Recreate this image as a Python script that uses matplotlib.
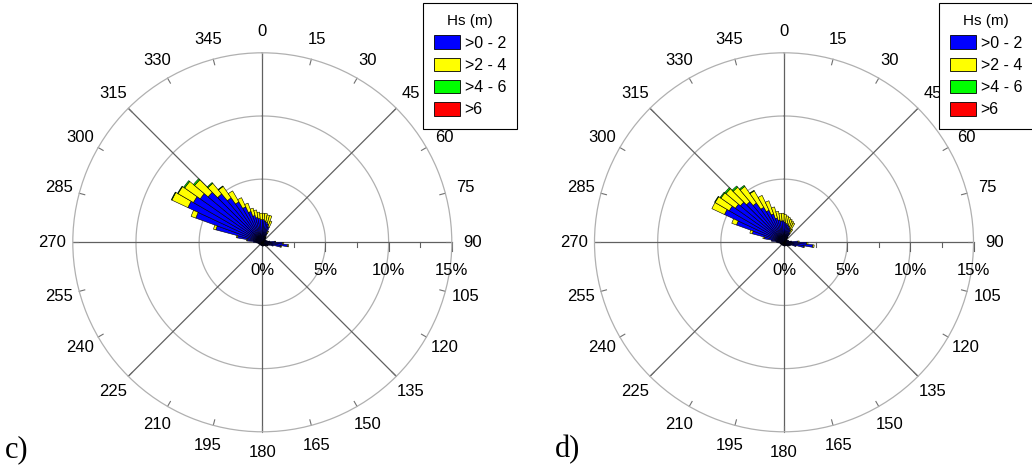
import numpy as np
import matplotlib.pyplot as plt
from matplotlib.patches import Patch

plt.rcParams['font.family'] = ['Liberation Sans', 'DejaVu Sans']

# direction bins (compass, deg) - centres of 5 deg sectors
dirs = np.arange(2.5, 360, 5)
classes = ['>0 - 2', '>2 - 4', '>4 - 6', '>6']
colors = ['#0000ff', '#ffff00', '#00ff00', '#ff0000']

# panel c) frequency (%) per Hs class, 72 bins starting at 2.5 deg
c_blue = [1.8, 1.7, 1.6, 1.5, 1.3, 0.8, 0.5, 0.4, 0.3, 0.3, 0.3, 0.3,
          0.3, 0.3, 0.4, 0.4, 0.6, 1.0, 1.6, 2.0, 1.5, 0.9, 0.6, 0.5,
          0.5, 0.4, 0.4, 0.4, 0.3, 0.3, 0.3, 0.3, 0.3, 0.3, 0.3, 0.3,
          0.25, 0.25, 0.25, 0.25, 0.25, 0.25, 0.25, 0.25, 0.25, 0.25, 0.25, 0.25,
          0.3, 0.3, 0.3, 0.3, 0.4, 0.5, 0.7, 1.2, 2.0, 3.8, 5.6, 6.5,
          6.3, 6.0, 5.6, 5.0, 4.3, 3.7, 3.1, 2.6, 2.2, 2.0, 1.9, 1.8]
c_yellow = [0.5, 0.6, 0.6, 0.7, 0.5, 0.2, 0.05, 0, 0, 0, 0, 0,
            0, 0, 0, 0, 0, 0.05, 0.1, 0.1, 0.05, 0, 0, 0,
            0, 0, 0, 0, 0, 0, 0, 0, 0, 0, 0, 0,
            0, 0, 0, 0, 0, 0, 0, 0, 0, 0, 0, 0,
            0, 0, 0, 0, 0, 0, 0, 0.05, 0.1, 0.2, 0.4, 1.4,
            1.4, 1.5, 1.4, 1.1, 1.1, 1.0, 0.8, 0.7, 0.6, 0.6, 0.5, 0.5]
c_green = [0, 0, 0, 0, 0, 0, 0, 0, 0, 0, 0, 0,
           0, 0, 0, 0, 0, 0, 0, 0, 0, 0, 0, 0,
           0, 0, 0, 0, 0, 0, 0, 0, 0, 0, 0, 0,
           0, 0, 0, 0, 0, 0, 0, 0, 0, 0, 0, 0,
           0, 0, 0, 0, 0, 0, 0, 0, 0, 0, 0, 0.05,
           0.05, 0.1, 0.12, 0.08, 0.05, 0, 0, 0, 0, 0, 0, 0]
c_red = [0, 0, 0, 0, 0, 0, 0, 0, 0, 0, 0, 0,
         0, 0, 0, 0, 0, 0, 0, 0, 0, 0, 0, 0,
         0, 0, 0, 0, 0, 0, 0, 0, 0, 0, 0, 0,
         0, 0, 0, 0, 0, 0, 0, 0, 0, 0, 0, 0,
         0, 0, 0, 0, 0, 0, 0, 0, 0, 0, 0, 0,
         0, 0, 0, 0, 0, 0, 0, 0, 0, 0, 0, 0]

# panel d)
d_blue = [1.6, 1.5, 1.4, 1.3, 1.2, 1.1, 0.8, 0.4, 0.3, 0.3, 0.3, 0.3,
          0.3, 0.3, 0.4, 0.4, 0.6, 1.1, 1.8, 2.3, 1.6, 1.0, 0.6, 0.5,
          0.5, 0.4, 0.4, 0.4, 0.3, 0.3, 0.3, 0.3, 0.3, 0.3, 0.3, 0.3,
          0.25, 0.25, 0.25, 0.25, 0.25, 0.25, 0.25, 0.25, 0.25, 0.25, 0.25, 0.25,
          0.3, 0.3, 0.3, 0.3, 0.4, 0.5, 0.6, 1.0, 1.6, 2.6, 4.0, 5.2,
          5.0, 4.7, 4.5, 4.2, 3.8, 3.2, 2.8, 2.4, 2.0, 1.8, 1.7, 1.7]
d_yellow = [0.6, 0.6, 0.6, 0.6, 0.6, 0.6, 0.4, 0.1, 0, 0, 0, 0,
            0, 0, 0, 0, 0, 0.1, 0.1, 0.1, 0.05, 0, 0, 0,
            0, 0, 0, 0, 0, 0, 0, 0, 0, 0, 0, 0,
            0, 0, 0, 0, 0, 0, 0, 0, 0, 0, 0, 0,
            0, 0, 0, 0, 0, 0, 0, 0, 0.1, 0.2, 0.4, 1.1,
            1.3, 1.4, 1.5, 1.5, 1.6, 1.5, 1.3, 1.1, 0.9, 0.7, 0.6, 0.6]
d_green = [0, 0, 0, 0, 0, 0, 0, 0, 0, 0, 0, 0,
           0, 0, 0, 0, 0, 0, 0, 0, 0, 0, 0, 0,
           0, 0, 0, 0, 0, 0, 0, 0, 0, 0, 0, 0,
           0, 0, 0, 0, 0, 0, 0, 0, 0, 0, 0, 0,
           0, 0, 0, 0, 0, 0, 0, 0, 0, 0, 0, 0,
           0.05, 0.08, 0.12, 0.12, 0.1, 0.05, 0, 0, 0, 0, 0, 0]
d_red = [0, 0, 0, 0, 0, 0, 0, 0, 0, 0, 0, 0,
         0, 0, 0, 0, 0, 0, 0, 0, 0, 0, 0, 0,
         0, 0, 0, 0, 0, 0, 0, 0, 0, 0, 0, 0,
         0, 0, 0, 0, 0, 0, 0, 0, 0, 0, 0, 0,
         0, 0, 0, 0, 0, 0, 0, 0, 0, 0, 0, 0,
         0, 0, 0, 0, 0, 0, 0, 0, 0, 0, 0, 0]

angle_labels = list(range(0, 360, 15))
rings = [5, 10, 15]
ring_labels = ['0%', '5%', '10%', '15%']
RMAX = 15


def to_polar(x, y):
    # cartesian (east, north) -> compass polar coords
    return np.arctan2(x, y), np.hypot(x, y)


def draw_rose(ax, series):
    ax.set_theta_zero_location('N')
    ax.set_theta_direction(-1)
    bottom = np.zeros(len(dirs))
    for vals, col in zip(series, colors):
        vals = np.asarray(vals, float)
        m = vals > 0
        ax.bar(np.deg2rad(dirs[m]), vals[m], width=np.deg2rad(5), bottom=bottom[m],
               color=col, edgecolor='black', linewidth=0.4, zorder=3)
        bottom += vals
    ax.set_ylim(0, RMAX)
    ax.set_xticks([])
    ax.set_yticks([])
    ax.grid(False)
    ax.spines['polar'].set_color('#b0b0b0')
    ax.spines['polar'].set_linewidth(0.9)

    th = np.linspace(0, 2 * np.pi, 400)
    for r in rings[:-1]:
        ax.plot(th, np.full_like(th, r), color='#b0b0b0', lw=0.9, zorder=1)
    for a in range(0, 360, 45):
        ax.plot([np.deg2rad(a)] * 2, [0, RMAX], color='#606060', lw=0.9, zorder=2)
    for a in angle_labels:
        t = np.deg2rad(a)
        ax.plot([t, t], [RMAX - 0.45, RMAX], color='#707070', lw=0.8, clip_on=False)
        ax.text(t, RMAX * 1.11, str(a), ha='center', va='center', fontsize=12,
                clip_on=False)
    # ticks and % labels along the east axis
    for r in np.arange(2.5, RMAX + 0.1, 2.5):
        ln = 0.65 if r % 5 == 0 else 0.4
        t0, r0 = to_polar(r, 0)
        t1, r1 = to_polar(r, -ln)
        ax.plot([t0, t1], [r0, r1], color='#606060', lw=0.8, clip_on=False, zorder=2)
    for r, lab in zip([0] + rings, ring_labels):
        t, rr = to_polar(r, -2.2)
        ax.text(t, rr, lab, ha='center', va='center', fontsize=12, clip_on=False)


fig = plt.figure(figsize=(10.32, 4.68), dpi=100)
w, h = 379 / 1032, 379 / 468
bot = (468 - 431.8) / 468
ax_c = fig.add_axes([(262.3 - 189.5) / 1032, bot, w, h], projection='polar')
ax_d = fig.add_axes([(784 - 189.5) / 1032, bot, w, h], projection='polar')
draw_rose(ax_c, [c_blue, c_yellow, c_green, c_red])
draw_rose(ax_d, [d_blue, d_yellow, d_green, d_red])

handles = [Patch(facecolor=c, edgecolor='black', linewidth=0.6) for c in colors]
for x0 in (423, 939):
    leg = fig.legend(handles, classes, title='Hs (m)', loc='upper left',
                     bbox_to_anchor=(x0 / 1032, 1 - 3 / 468), fontsize=11.5,
                     title_fontsize=11, fancybox=False, edgecolor='black',
                     framealpha=1, handlelength=1.6, handleheight=0.9,
                     labelspacing=0.45, handletextpad=0.3, borderaxespad=0,
                     borderpad=0.7)
    leg.get_frame().set_linewidth(0.8)

fig.text(5 / 1032, 11 / 468, 'c)', fontfamily='Liberation Serif', fontsize=22,
         va='baseline')
fig.text(555 / 1032, 11 / 468, 'd)', fontfamily='Liberation Serif', fontsize=22,
         va='baseline')

fig.savefig('out.png', dpi=100)
